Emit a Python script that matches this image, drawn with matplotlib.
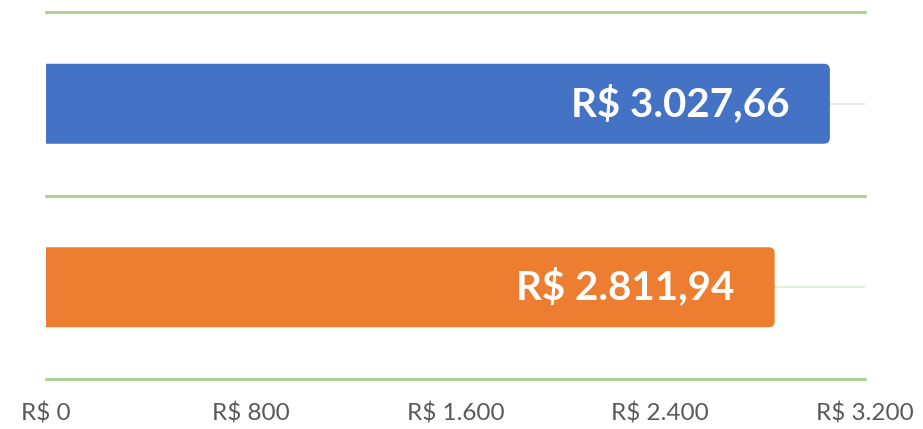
import matplotlib
matplotlib.use("Agg")
import matplotlib.pyplot as plt
from matplotlib.patches import FancyBboxPatch
from matplotlib.ticker import FuncFormatter

categories = ["A", "B"]
values = [3027.66, 2811.94]
colors = ["#4472C4", "#ED7D31"]
xticks = [0, 800, 1600, 2400, 3200]

plt.rcParams['font.family'] = ['Lato', 'DejaVu Sans']

W, H = 923, 429
fig = plt.figure(figsize=(W / 100, H / 100), dpi=100)
ax = fig.add_axes([46 / W, 1 - 379 / H, (865 - 46) / W, (379 - 12) / H])

xmax = 3200
ax.set_xlim(0, xmax)
ax.set_ylim(1.5, -0.5)

px_x = xmax / (865 - 46)      # data units per pixel, x
px_y = 2.0 / (379 - 12)       # data units per pixel, y
aspect = px_y / px_x
pad = 9 * px_x
bar_h = 80 * px_y - 2 * 9 * px_y

# faint lines through category centres
for i in range(len(categories)):
    ax.axhline(i, color="#E2EFD9", lw=1.5, zorder=1)
# category boundary lines
for y in [-0.5, 0.5, 1.5]:
    ax.axhline(y, color="#A9D18E", lw=2, zorder=1, clip_on=False)

for i, (v, c) in enumerate(zip(values, colors)):
    x0 = -200
    box = FancyBboxPatch((x0, i - bar_h / 2), v - x0, bar_h,
                         boxstyle=f"round,pad={pad},rounding_size={6 * px_x}",
                         mutation_aspect=aspect, fc=c, ec="none", zorder=2)
    ax.add_patch(box)
    label = "R$ " + f"{v:,.2f}".replace(",", "X").replace(".", ",").replace("X", ".")
    ax.text(v + pad - 40 * px_x, i, label, ha="right", va="center",
            color="white", fontsize=29, fontweight="bold", zorder=3)

def fmt(x, pos):
    return "R$ " + f"{int(x):,}".replace(",", ".")

ax.set_xticks(xticks)
ax.xaxis.set_major_formatter(FuncFormatter(fmt))
ax.set_yticks([])
ax.tick_params(axis="x", length=0, pad=17, labelsize=17.5, labelcolor="#595959")
for s in ax.spines.values():
    s.set_visible(False)

fig.savefig("out.png", dpi=100)
